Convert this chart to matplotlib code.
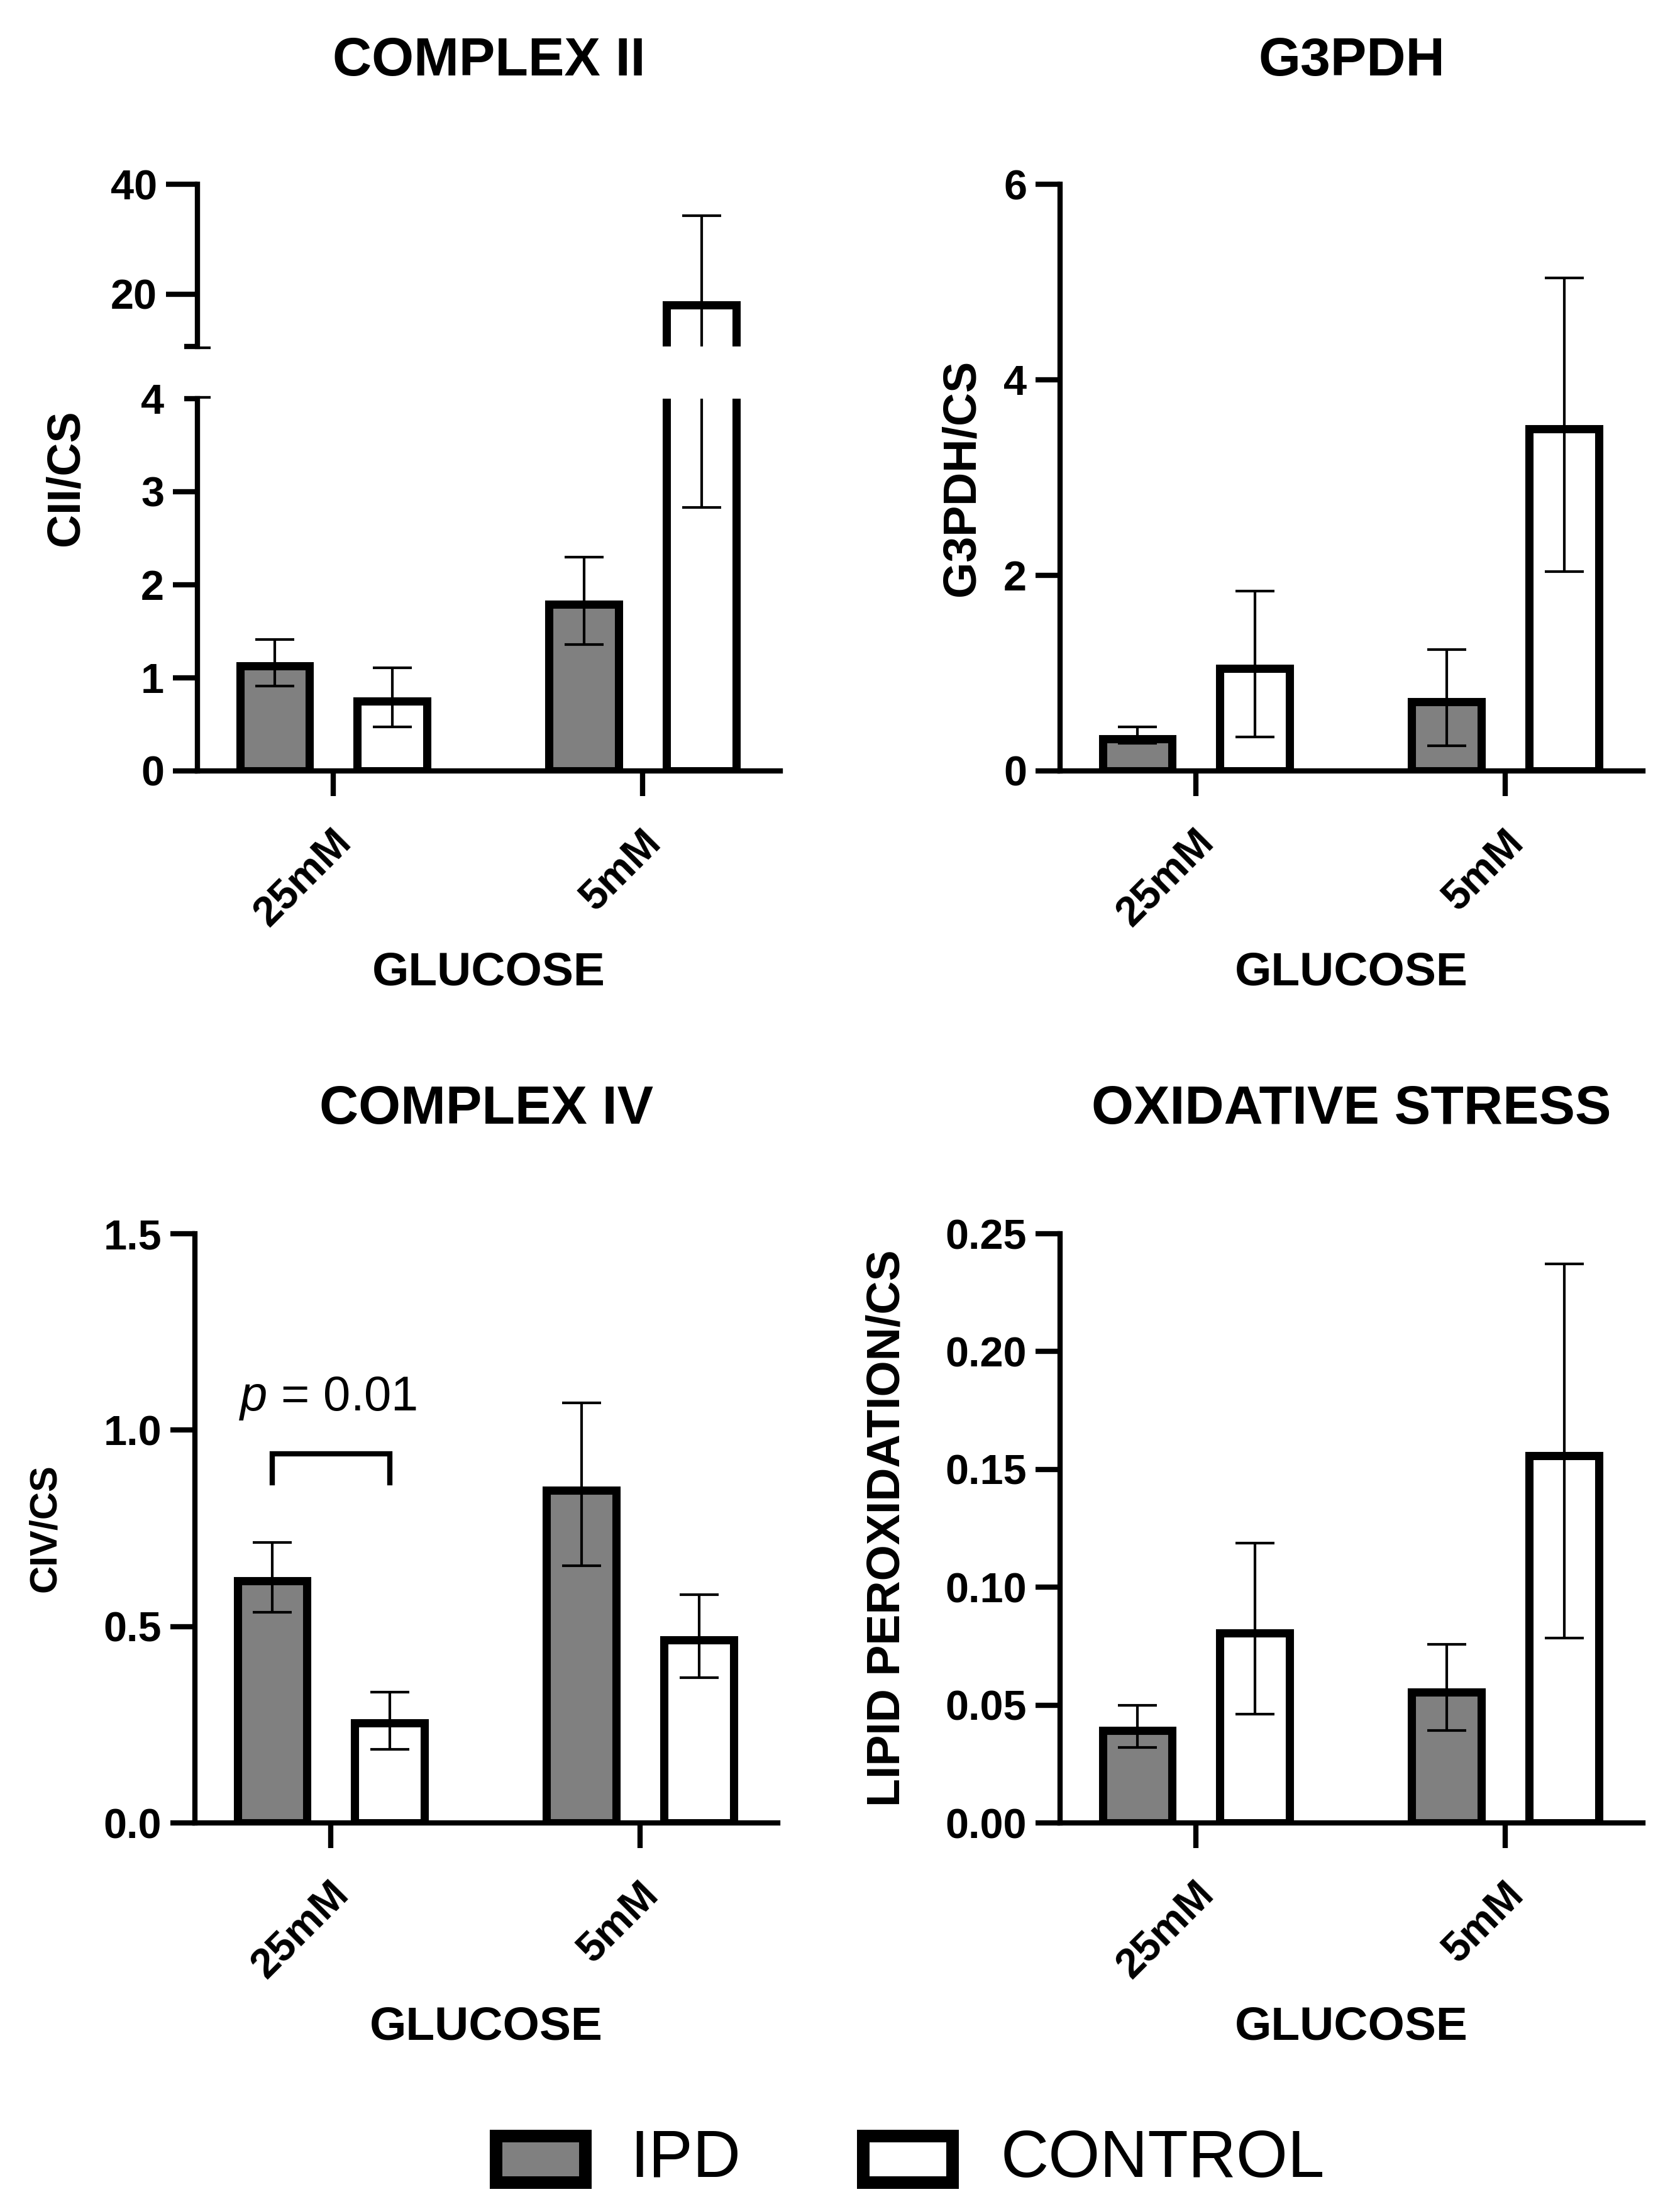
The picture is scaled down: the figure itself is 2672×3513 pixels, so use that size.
import numpy as np
import matplotlib
matplotlib.use("Agg")
import matplotlib.pyplot as plt
from matplotlib.patches import Rectangle
from matplotlib.transforms import ScaledTranslation

plt.rcParams['font.family'] = ['Liberation Sans', 'DejaVu Sans']
plt.rcParams['font.weight'] = 'bold'
plt.rcParams['mathtext.fontset'] = 'custom'
plt.rcParams['mathtext.it'] = 'Liberation Sans:style=italic:weight=normal'
plt.rcParams['mathtext.rm'] = 'Liberation Sans:weight=normal'

W, H, DPI = 2672, 3513, 200

# ---- data (mean, lower and upper end of error bar) ----
groups = ['25mM', '5mM']

cii_ipd = [1.13, 1.79]
cii_ipd_lo = [0.91, 1.36]
cii_ipd_hi = [1.41, 2.30]
cii_ctl = [0.75, 18.1]
cii_ctl_lo = [0.47, 2.83]
cii_ctl_hi = [1.11, 34.3]

g3_ipd = [0.33, 0.71]
g3_ipd_lo = [0.28, 0.26]
g3_ipd_hi = [0.45, 1.24]
g3_ctl = [1.05, 3.50]
g3_ctl_lo = [0.35, 2.04]
g3_ctl_hi = [1.84, 5.04]

civ_ipd = [0.616, 0.847]
civ_ipd_lo = [0.537, 0.654]
civ_ipd_hi = [0.714, 1.069]
civ_ctl = [0.255, 0.466]
civ_ctl_lo = [0.188, 0.369]
civ_ctl_hi = [0.333, 0.581]

lp_ipd = [0.0391, 0.0556]
lp_ipd_lo = [0.032, 0.0393]
lp_ipd_hi = [0.050, 0.0759]
lp_ctl = [0.0805, 0.1558]
lp_ctl_lo = [0.0462, 0.0784]
lp_ctl_hi = [0.1186, 0.2372]

IPD_COLOR = '#808080'
CTL_COLOR = 'white'
BAR_W = 0.225
OFF = 0.19
EDGE_LW = 4.7
SPINE_LW = 3.0
XLIM = (-0.44, 1.445)
AX_W = 927
TICK_FS = 24

fig = plt.figure(figsize=(W / DPI, H / DPI), dpi=DPI)


def rect(left, top, bottom):
    """axes rect from pixel coords (top-down)"""
    return [left / W, 1 - bottom / H, AX_W / W, (bottom - top) / H]


def draw_bars(ax, ipd, ipd_lo, ipd_hi, ctl, ctl_lo, ctl_hi):
    x = np.arange(len(groups))
    for off, m, lo, hi, col in [(-OFF, ipd, ipd_lo, ipd_hi, IPD_COLOR),
                                (OFF, ctl, ctl_lo, ctl_hi, CTL_COLOR)]:
        m = np.array(m)
        ax.bar(x + off, m, width=BAR_W, color=col, edgecolor='black',
               linewidth=EDGE_LW, zorder=2)
        yerr = [m - np.array(lo), np.array(hi) - m]
        ax.errorbar(x + off, m, yerr=yerr, fmt='none', ecolor='black',
                    elinewidth=1.5, capsize=11, capthick=1.5, zorder=3)


def style(ax, xaxis=True):
    for s in ['top', 'right']:
        ax.spines[s].set_visible(False)
    ax.spines['left'].set_linewidth(SPINE_LW)
    ax.spines['bottom'].set_linewidth(SPINE_LW)
    ax.set_xlim(*XLIM)
    ax.tick_params(axis='y', width=SPINE_LW, length=14, labelsize=TICK_FS, pad=5)
    if xaxis:
        ax.set_xticks(np.arange(len(groups)))
        ax.set_xticklabels(groups, rotation=45, ha='right', va='center',
                           rotation_mode='anchor')
        ax.tick_params(axis='x', width=SPINE_LW, length=14.5, labelsize=TICK_FS, pad=21)
        shift = ScaledTranslation(7 / 72, -2 / 72, fig.dpi_scale_trans)
        for lbl in ax.get_xticklabels():
            lbl.set_transform(lbl.get_transform() + shift)
    else:
        ax.spines['bottom'].set_visible(False)
        ax.set_xticks([])


def px(x, y):
    return x / W, 1 - y / H


def panel_text(left, top, bottom, title, ylabel, title_base, xl_base, yl_x, yl_size=26.5):
    cx = left + AX_W / 2
    fig.text(*px(cx, title_base), title, ha='center', va='baseline', fontsize=31)
    fig.text(*px(cx, xl_base), 'GLUCOSE', ha='center', va='baseline', fontsize=27)
    fig.text(*px(yl_x, (top + bottom) / 2), ylabel, ha='center', va='center',
             rotation=90, fontsize=yl_size)


TOP_T, TOP_B = 293, 1226
BOT_T, BOT_B = 1962, 2899

# ---- COMPLEX II (broken axis) ----
TL_LEFT = 314
tl_break_lo = 634
tl_break_hi = 551
ax_lo = fig.add_axes(rect(TL_LEFT, tl_break_lo, TOP_B))
ax_hi = fig.add_axes(rect(TL_LEFT, TOP_T, tl_break_hi))
for a in (ax_lo, ax_hi):
    draw_bars(a, cii_ipd, cii_ipd_lo, cii_ipd_hi, cii_ctl, cii_ctl_lo, cii_ctl_hi)
style(ax_lo)
style(ax_hi, xaxis=False)
ax_lo.set_ylim(0, 4)
ax_lo.set_yticks([0, 1, 2, 3, 4])
ax_lo.yaxis.get_major_ticks()[4].tick1line.set_visible(False)
ax_hi.set_ylim(10.5, 40)
ax_hi.set_yticks([20, 40])
ax_hi.tick_params(axis='y', length=18)
panel_text(TL_LEFT, TOP_T, TOP_B, 'COMPLEX II', 'CII/CS', 120, 1566, 105)

# ---- G3PDH ----
TR_LEFT = 1686
ax_g3 = fig.add_axes(rect(TR_LEFT, TOP_T, TOP_B))
draw_bars(ax_g3, g3_ipd, g3_ipd_lo, g3_ipd_hi, g3_ctl, g3_ctl_lo, g3_ctl_hi)
style(ax_g3)
ax_g3.set_ylim(0, 6)
ax_g3.set_yticks([0, 2, 4, 6])
panel_text(TR_LEFT, TOP_T, TOP_B, 'G3PDH', 'G3PDH/CS', 120, 1566, 1530)

# ---- COMPLEX IV ----
BL_LEFT = 310
ax_civ = fig.add_axes(rect(BL_LEFT, BOT_T, BOT_B))
draw_bars(ax_civ, civ_ipd, civ_ipd_lo, civ_ipd_hi, civ_ctl, civ_ctl_lo, civ_ctl_hi)
style(ax_civ)
ax_civ.set_ylim(0, 1.5)
ax_civ.set_yticks([0, 0.5, 1.0, 1.5])
ax_civ.set_yticklabels(['0.0', '0.5', '1.0', '1.5'])
ax_civ.plot([-OFF, -OFF, OFF, OFF], [0.866, 0.939, 0.939, 0.866], color='black',
            lw=SPINE_LW, solid_joinstyle='miter', zorder=4)
ax_civ.text(-0.01, 1.05, r'$\mathit{p}$ = 0.01', ha='center', va='baseline',
            fontsize=28, fontweight='normal')
panel_text(BL_LEFT, BOT_T, BOT_B, 'COMPLEX IV', 'CIV/CS', 1787, 3243, 72, yl_size=22)

# ---- OXIDATIVE STRESS ----
BR_LEFT = 1686
ax_ox = fig.add_axes(rect(BR_LEFT, BOT_T, BOT_B))
draw_bars(ax_ox, lp_ipd, lp_ipd_lo, lp_ipd_hi, lp_ctl, lp_ctl_lo, lp_ctl_hi)
style(ax_ox)
ax_ox.set_ylim(0, 0.25)
ax_ox.set_yticks([0, 0.05, 0.10, 0.15, 0.20, 0.25])
ax_ox.set_yticklabels(['0.00', '0.05', '0.10', '0.15', '0.20', '0.25'])
panel_text(BR_LEFT, BOT_T, BOT_B, 'OXIDATIVE STRESS', 'LIPID PEROXIDATION/CS', 1787, 3243, 1411)

# ---- overlay: axis break caps and legend ----
ov = fig.add_axes([0, 0, 1, 1], zorder=-1)
ov.set_xlim(0, W)
ov.set_ylim(H, 0)
ov.axis('off')
for yb in (tl_break_lo, tl_break_hi):
    ov.plot([TL_LEFT - 21, TL_LEFT + 21], [yb, yb], color='black', lw=SPINE_LW,
            solid_capstyle='butt')

leg_items = [('IPD', IPD_COLOR, 779, 1002), ('CONTROL', CTL_COLOR, 1363, 1592)]
for label, col, bx, tx in leg_items:
    ov.add_patch(Rectangle((bx + 10, 3397), 142, 74, facecolor=col,
                           edgecolor='black', linewidth=7.2))
    ov.text(tx, 3434, label, ha='left', va='center', fontsize=38, fontweight='normal')

fig.savefig('out.png', dpi=DPI)
